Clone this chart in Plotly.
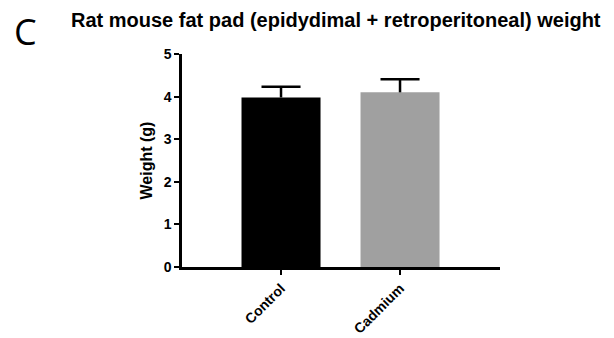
import plotly.graph_objects as go

categories = ["Control", "Cadmium"]
means = [3.98, 4.10]
sem = [0.25, 0.31]
bar_colors = ["#000000", "#a0a0a0"]
y_ticks = [0, 1, 2, 3, 4, 5]

FONT = "Liberation Sans"
CAP = 0.164  # half cap width in category units

xpos = list(range(len(categories)))

fig = go.Figure()
fig.add_trace(go.Bar(
    x=xpos, y=means,
    marker=dict(color=bar_colors, line=dict(width=0)),
    width=0.664, hoverinfo="skip",
))

# upper-only error bars (stem + cap) built from the data
ex, ey = [], []
for i, (m, s) in enumerate(zip(means, sem)):
    ex += [i, i, None, i - CAP, i + CAP, None]
    ey += [m, m + s, None, m + s, m + s, None]
fig.add_trace(go.Scatter(
    x=ex, y=ey, mode="lines",
    line=dict(color="#000000", width=2.5),
    hoverinfo="skip",
))

PT, PH = 54, 213
def ypaper(px):
    return 1 + (PT - px) / PH

fig.update_layout(
    width=614, height=338,
    margin=dict(l=182, r=114, t=54, b=71, autoexpand=False),
    paper_bgcolor="white", plot_bgcolor="white",
    showlegend=False,
    font=dict(family=FONT, color="#000000"),
)
fig.update_xaxes(
    range=[-0.832, 1.84], tickvals=xpos, ticktext=categories,
    showline=True, linecolor="#000000", linewidth=2.5,
    ticks="outside", ticklen=5, tickwidth=2, tickcolor="#000000",
    tickangle=-45, automargin=False,
    tickfont=dict(family=FONT, size=14, weight="bold", color="#000000"),
    showgrid=False, zeroline=False,
)
fig.update_yaxes(
    range=[0, 5], tickvals=y_ticks, automargin=False,
    showline=True, linecolor="#000000", linewidth=2.5,
    ticks="outside", ticklen=5, tickwidth=2, tickcolor="#000000",
    tickfont=dict(family=FONT, size=14, weight="bold", color="#000000"),
    title=dict(text="Weight (g)", font=dict(family=FONT, size=16, weight="bold", color="#000000"), standoff=8),
    showgrid=False, zeroline=False,
)

fig.add_annotation(
    text="Rat mouse fat pad (epidydimal + retroperitoneal) weight",
    xref="paper", yref="paper", x=(69 - 182) / 318, y=ypaper(20),
    xanchor="left", yanchor="middle", showarrow=False,
    font=dict(family=FONT, size=20, weight="bold", color="#000000"),
)
fig.add_annotation(
    text="C",
    xref="paper", yref="paper", x=(12 - 182) / 318, y=ypaper(31),
    xanchor="left", yanchor="middle", showarrow=False,
    font=dict(family="Open Sans", size=36, color="#000000"),
)

fig.write_html("out.html", config={"displayModeBar": False},
               post_script="document.body.style.margin='0';")
